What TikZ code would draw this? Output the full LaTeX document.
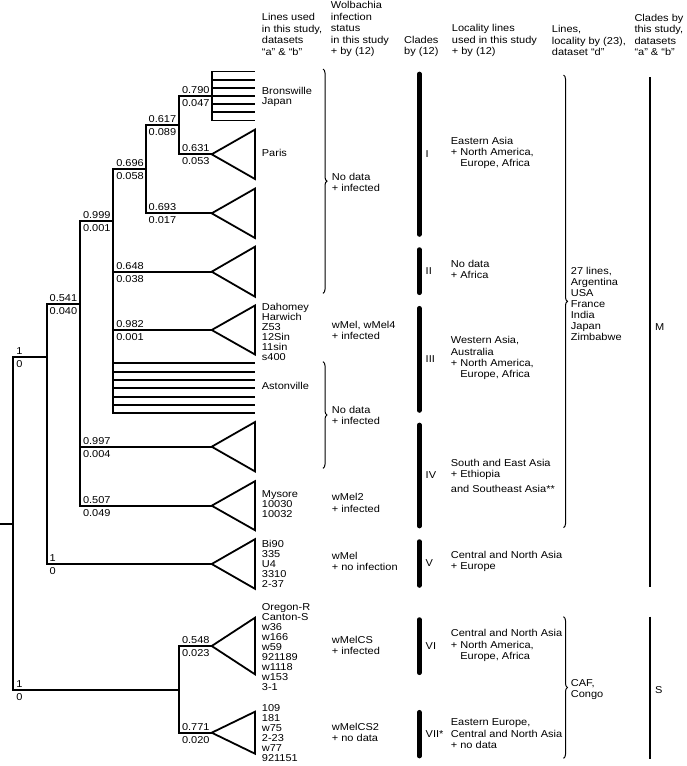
\documentclass[tikz,border=0pt]{standalone}
\usepackage{fontspec}
\setmainfont{Liberation Sans}[FakeStretch=1.1]
\usetikzlibrary{positioning,decorations.pathreplacing}

\begin{document}
\begin{tikzpicture}[
    x=1pt, y=-1pt,
    font=\fontsize{10}{11.3}\selectfont,
    branch/.style={line width=1.8pt, line join=miter},
    clade/.style={line width=1.8pt, line join=miter},
    cbar/.style={line width=4.5pt, line cap=round},
    gbar/.style={line width=1.4pt},
    grp/.style={decorate, decoration={brace, amplitude=4pt}, line width=1pt},
    txt/.style={anchor=west, inner sep=0pt, align=left},
    names/.style={txt, font=\fontsize{10}{10}\selectfont},
    hdr/.style={txt, font=\fontsize{10}{11.4}\selectfont},
    supa/.style={inner sep=0pt, anchor=base west, xshift=2.8pt, yshift=2.6pt},
    supb/.style={inner sep=0pt, anchor=north west, xshift=2.8pt, yshift=-3.2pt}
]
    \useasboundingbox (0,0) rectangle (687,766);

    % tree nodes
    \coordinate (stub) at (0,523.7);
    \coordinate (r) at (13.3,523.7);
    \coordinate (nA) at (46.7,357.3);
    \coordinate (nB) at (80,304);
    \coordinate (nC) at (113.3,220.7);
    \coordinate (nD) at (145.7,169);
    \coordinate (nE) at (179,125);
    \coordinate (kTop) at (211.7,96);
    \coordinate (tParis) at (211.7,154.3);
    \coordinate (t693) at (211.7,213.3);
    \coordinate (t648) at (211.7,271.7);
    \coordinate (t982) at (211.7,330);
    \coordinate (t997) at (211.7,446.7);
    \coordinate (t507) at (211.7,505.7);
    \coordinate (tBi) at (211.7,564);
    \coordinate (nF) at (179,690);
    \coordinate (t548) at (211.7,646);
    \coordinate (t771) at (211.7,732.7);

    % branches with support values
    \draw [branch] (stub) -- (r);
    \foreach \p/\c/\a/\b in {r/nA/1/0, nA/nB/0.541/0.040, nB/nC/0.999/0.001,
        nC/nD/0.696/0.058, nD/nE/0.617/0.089, nE/kTop/0.790/0.047,
        nE/tParis/0.631/0.053, nD/t693/0.693/0.017, nC/t648/0.648/0.038,
        nC/t982/0.982/0.001, nB/t997/0.997/0.004, nB/t507/0.507/0.049,
        nA/tBi/1/0, r/nF/1/0, nF/t548/0.548/0.023, nF/t771/0.771/0.020} {
        \draw [branch] (\p) |- (\c);
        \node [supa] at (\p |- \c) {\a};
        \node [supb] at (\p |- \c) {\b};
    }

    % combs
    \foreach \k in {-3,...,3} {
        \coordinate (top\k) at (255,{96+8.17*\k});
        \draw [branch] (kTop) |- (top\k);
    }
    \foreach \k in {0,...,6} {
        \coordinate (ast\k) at (255,{363.3+8.33*\k});
        \draw [branch] (nC) |- (ast\k);
    }

    % collapsed clades
    \foreach \t/\h in {tParis/24.7, t693/24.7, t648/25, t982/24.5, t997/24.7,
        t507/24.5, tBi/24.8, t548/28.3, t771/21}
        \draw [clade] (\t) -- ++(43.3,-\h) -- ++(0,{2*\h}) -- cycle;

    % line names
    \node [names] (lBron) at (261.7,96.7) {Bronswille\\Japan};
    \node [names] (lParis) at (261.7,153) {Paris};
    \node [names] (lDah) at (261.7,331.7) {Dahomey\\Harwich\\Z53\\12Sin\\11sin\\s400};
    \node [names] (lAst) at (261.7,385.7) {Astonville};
    \node [names] (lMys) at (261.7,504) {Mysore\\10030\\10032};
    \node [names] (lBi) at (261.7,564) {Bi90\\335\\U4\\3310\\2-37};
    \node [names] (lOre) at (261.7,647) {Oregon-R\\Canton-S\\w36\\w166\\w59\\921189\\w1118\\w153\\3-1};
    \node [names] (l109) at (261.7,733.3) {109\\181\\w75\\2-23\\w77\\921151};

    % headers
    \node [hdr] (hLines) at (261.7,34.5) {Lines used\\in this study,\\datasets\\“a” \& “b”};
    \node [hdr] (hWol) at (330.7,29.2) {Wolbachia\\infection\\status\\in this study\\+ by (12)};
    \node [hdr] (hClad) at (404,46.2) {Clades\\by (12)};
    \node [hdr] (hLoc) at (451.7,40.5) {Locality lines\\used in this study\\+ by (12)};
    \node [hdr] (hDat) at (551.7,40.5) {Lines,\\locality by (23),\\dataset “d”};
    \node [hdr] (hOur) at (634.3,35) {Clades by\\this study,\\datasets\\“a” \& “b”};

    % infection status
    \draw [grp] (323,69) -- (323,293.3);
    \draw [grp] (323,361.7) -- (323,468.3);
    \node [txt] (iNo1) at (331.7,182.2) {No data\\+ infected};
    \node [txt] (iMel) at (331.7,330.5) {wMel, wMel4\\+ infected};
    \node [txt] (iNo2) at (331.7,415.5) {No data\\+ infected};
    \node [txt] (iMel2) at (331.7,502.8) {wMel2\\+ infected};
    \node [txt] (iMelV) at (331.7,561.2) {wMel\\+ no infection};
    \node [txt] (iCS) at (331.7,645.5) {wMelCS\\+ infected};
    \node [txt] (iCS2) at (331.7,732.5) {wMelCS2\\+ no data};

    % clades by (12)
    \foreach \a/\b/\l in {71.7/236.7/I, 247.3/295/II, 306/412.7/III, 422.7/528.3/IV,
        539.3/587.7/V, 617.3/675/VI, 710/758.3/VII*} {
        \draw [cbar] (419.3,{\a+2.2}) -- (419.3,{\b-2.2});
        \node [txt] at (425.5,{(\a+\b)/2}) {\l};
    }

    % localities
    \node [txt] (oI) at (450.7,152.8) {Eastern Asia\\+ North America,\\\phantom{+ }Europe, Africa};
    \node [txt] (oII) at (450.7,269.5) {No data\\+ Africa};
    \node [txt] (oIII) at (450.7,358.3) {Western Asia,\\Australia\\+ North America,\\\phantom{+ }Europe, Africa};
    \node [txt] (oIV) at (450.7,476) {South and East Asia\\+ Ethiopia\\[4pt]and Southeast Asia**};
    \node [txt] (oV) at (450.7,561.2) {Central and North Asia\\+ Europe};
    \node [txt] (oVI) at (450.7,645.5) {Central and North Asia\\+ North America,\\\phantom{+ }Europe, Africa};
    \node [txt] (oVII) at (450.7,733.8) {Eastern Europe,\\Central and North Asia\\+ no data};

    % dataset d
    \draw [grp] (563.5,75) -- (563.5,527.7);
    \draw [grp] (563.5,616.7) -- (563.5,758.3);
    \node [txt, font=\fontsize{10}{10.9}\selectfont] (dM) at (570.7,303.8)
        {27 lines,\\Argentina\\USA\\France\\India\\Japan\\Zimbabwe};
    \node [txt] (dS) at (570.7,689.2) {CAF,\\Congo};

    % clades by this study
    \draw [gbar] (650,77) -- (650,587.3);
    \draw [gbar] (650,616.7) -- (650,759.3);
    \node [txt] (cM) at (655,327.3) {M};
    \node [txt] (cS) at (655,690) {S};
\end{tikzpicture}
\end{document}
